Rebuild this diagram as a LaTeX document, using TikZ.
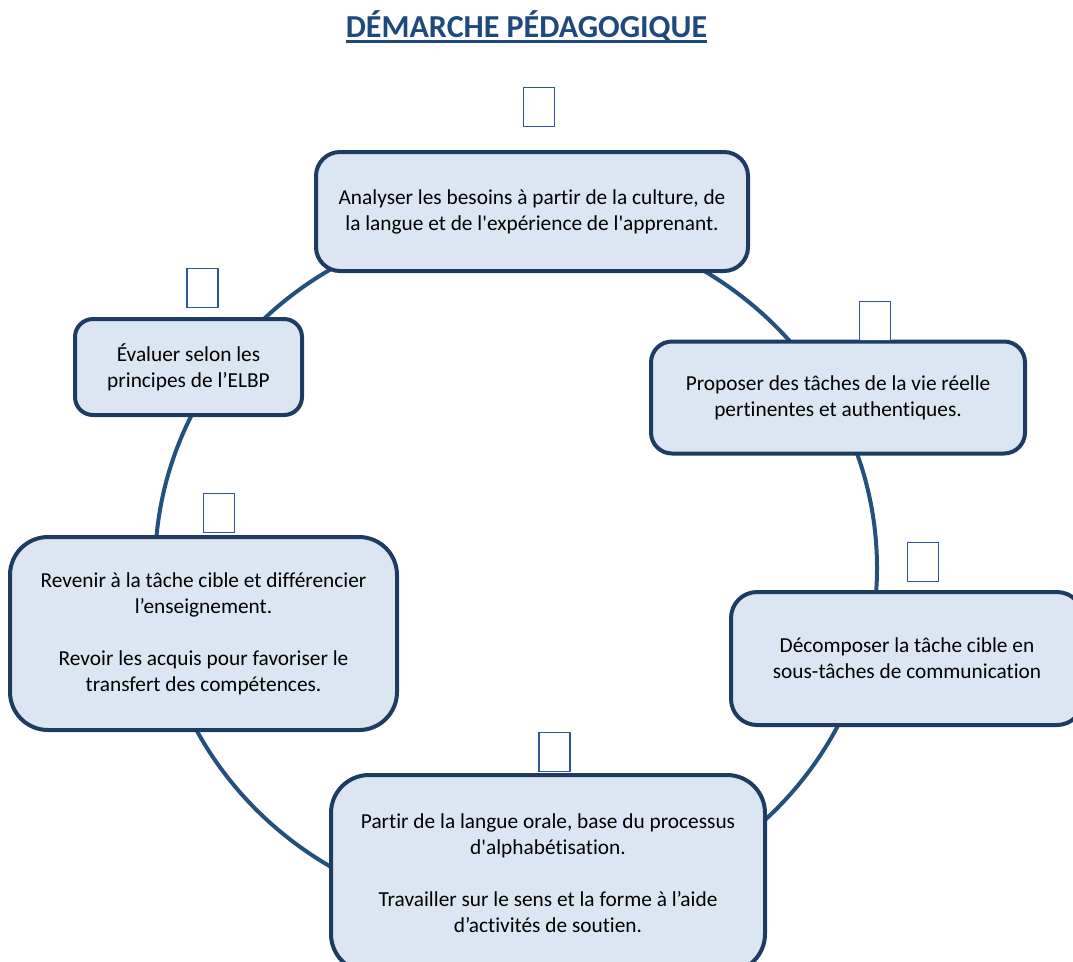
\documentclass[tikz,border=0pt]{standalone}
\usepackage{fontspec}
\setmainfont{Carlito}[Ligatures={TeXOff,CommonOff}]
\definecolor{titleblue}{HTML}{1F497D}
\definecolor{ringblue}{HTML}{24507E}
\definecolor{edgeblue}{HTML}{1E3B62}
\definecolor{fillblue}{HTML}{DCE6F2}
\definecolor{tofublue}{HTML}{2F5597}
\tikzset{
  stagebox/.style={draw=edgeblue, fill=fillblue, line width=3pt, inner sep=0pt, outer sep=0pt,
    align=center, font=\fontsize{16}{19.5}\selectfont, text=black},
  tofu/.style={draw=tofublue, fill=white, line width=1.1pt, minimum width=23pt, minimum height=29.5pt, inner sep=0pt},
  ring/.style={draw=ringblue, line width=3pt}
}
\begin{document}
\begin{tikzpicture}[x=0.75pt,y=-0.75pt]
\useasboundingbox (0,0) rectangle (1073,961);
\clip (0,0) rectangle (1073,961);
% title
\node[inner sep=0pt, text=titleblue, font=\bfseries\fontsize{24}{29}\selectfont, anchor=base] (title) at (526.5,37) {DÉMARCHE PÉDAGOGIQUE};
\draw[titleblue, line width=1.6pt] ([yshift=-3.4pt]title.base west) -- ([yshift=-3.4pt]title.base east);
% ring
\coordinate (ringc) at (516,568);
\draw[ring] (ringc) ellipse [x radius=270.75pt, y radius=261pt];
% boxes
\node[stagebox, minimum width=324pt, minimum height=89.25pt, rounded corners=18pt] (s1) at (532,211.5)
  {Analyser les besoins à partir de la culture, de\\la langue et de l'expérience de l'apprenant.};
\node[stagebox, minimum width=280.5pt, minimum height=84pt, rounded corners=15.75pt] (s2) at (838,397.5)
  {Proposer des tâches de la vie réelle\\pertinentes et authentiques.};
\node[stagebox, minimum width=264pt, minimum height=99.75pt, rounded corners=19.5pt] (s3) at (907,658.5)
  {Décomposer la tâche cible en\\sous-tâches de communication};
\node[stagebox, minimum width=325.5pt, minimum height=147.75pt, rounded corners=28.5pt] (s4) at (548,873.5)
  {Partir de la langue orale, base du processus\\d'alphabétisation.\\[19.5pt]Travailler sur le sens et la forme à l’aide\\d’activités de soutien.};
\node[stagebox, minimum width=290.25pt, minimum height=144.75pt, rounded corners=28.5pt] (s5) at (203.5,633.5)
  {Revenir à la tâche cible et différencier\\l’enseignement.\\[19.5pt]Revoir les acquis pour favoriser le\\transfert des compétences.};
\node[stagebox, minimum width=170.25pt, minimum height=72pt, rounded corners=13.5pt] (s6) at (188.5,367)
  {Évaluer selon les\\principes de l’ELBP};
% placeholder glyph boxes
\node[tofu] (t1) at (539,107) {};
\node[tofu] (t2) at (875,321) {};
\node[tofu] (t3) at (923,562) {};
\node[tofu] (t4) at (554.5,752) {};
\node[tofu] (t5) at (219,513) {};
\node[tofu] (t6) at (202.5,288) {};
\end{tikzpicture}
\end{document}
